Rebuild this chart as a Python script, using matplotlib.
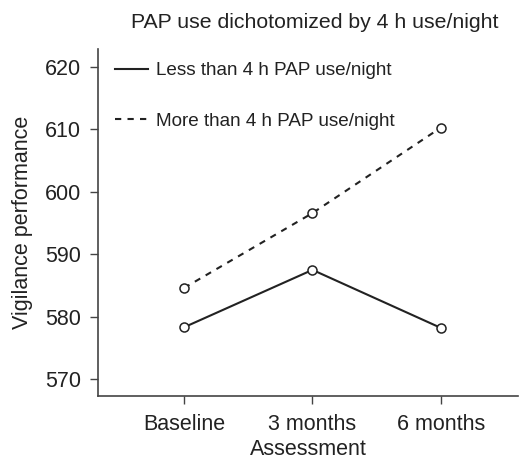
import matplotlib.pyplot as plt

plt.rcParams['font.family'] = ['Liberation Sans', 'DejaVu Sans']

assessments = ["Baseline", "3 months", "6 months"]
less_than_4h = [578.3, 587.5, 578.2]
more_than_4h = [584.6, 596.6, 610.3]
y_ticks = [570, 580, 590, 600, 610, 620]

ink = "#222222"

fig = plt.figure(figsize=(5.2, 4.62), dpi=100)
ax = fig.add_axes([0.1885, 0.143, 0.8075, 0.751])

x = list(range(len(assessments)))
ax.plot(x, less_than_4h, color=ink, lw=1.5, ls="-",
        label="Less than 4 h PAP use/night")
ax.plot(x, more_than_4h, color=ink, lw=1.5, ls=(0, (3, 3)),
        label="More than 4 h PAP use/night")
ax.plot(x, less_than_4h, ls="none", marker="o", ms=6.5, mfc="white",
        mec=ink, mew=1.1)
ax.plot(x, more_than_4h, ls="none", marker="o", ms=6.5, mfc="white",
        mec=ink, mew=1.1)

ax.set_xlim(-0.67, 2.6)
ax.set_ylim(567.3, 622.9)
ax.set_xticks(x)
ax.set_xticklabels(assessments)
ax.set_yticks(y_ticks)

for s in ["top", "right"]:
    ax.spines[s].set_visible(False)
for s in ["left", "bottom"]:
    ax.spines[s].set_color("#444444")
    ax.spines[s].set_linewidth(1.2)

ax.tick_params(direction="out", length=6, width=1, color="#444444",
               labelsize=15.5, labelcolor=ink)
ax.tick_params(axis="y", pad=6)
ax.tick_params(axis="x", pad=7)

ax.set_xlabel("Assessment", fontsize=15.5, color=ink, labelpad=3)
ax.set_ylabel("Vigilance performance", fontsize=15.5, color=ink, labelpad=9)
ax.set_title("PAP use dichotomized by 4 h use/night", fontsize=15.3,
             color=ink, pad=15, x=0.517)

leg = ax.legend(loc="upper left", frameon=False, fontsize=13.6,
                labelspacing=1.75, handlelength=1.75, handletextpad=0.45,
                borderaxespad=0.2, bbox_to_anchor=(0.013, 0.995))
for t in leg.get_texts():
    t.set_color(ink)

fig.savefig("out.png", dpi=100)
